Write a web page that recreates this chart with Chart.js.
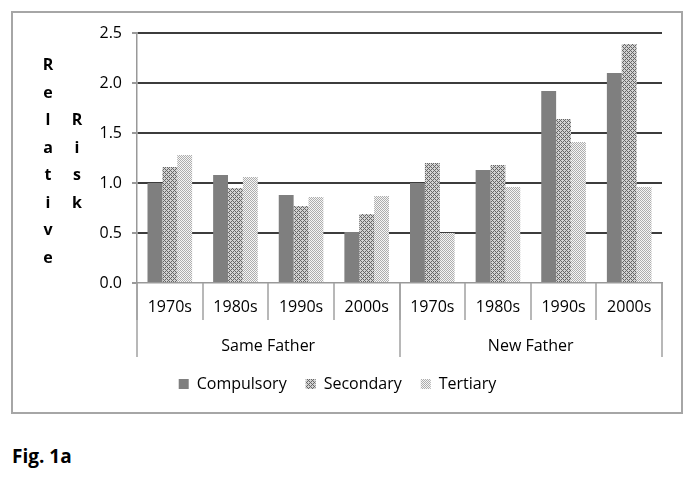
<!DOCTYPE html>
<html>
<head>
<meta charset="utf-8">
<script src="https://cdn.jsdelivr.net/npm/chart.js@4/dist/chart.umd.min.js"></script>
<style>
  body { margin: 0; background: #fff; font-family: "Open Sans", sans-serif; }
  #box { position: absolute; left: 11px; top: 11px; width: 672px; height: 403px;
         border: 2px solid #a6a6a6; box-sizing: border-box; }
  #fig { position: absolute; left: 12px; top: 443px; font-size: 19px; font-weight: bold; color: #000; }
</style>
</head>
<body>
<div id="box"><canvas id="chart" width="668" height="399"></canvas></div>
<div id="fig">Fig. 1a</div>
<script>
// データ
var decades = ["1970s", "1980s", "1990s", "2000s", "1970s", "1980s", "1990s", "2000s"];
var groups = ["Same Father", "New Father"];
var compulsory = [1.00, 1.08, 0.88, 0.51, 1.00, 1.13, 1.92, 2.10];
var secondary  = [1.16, 0.95, 0.77, 0.69, 1.20, 1.18, 1.64, 2.39];
var tertiary   = [1.28, 1.06, 0.86, 0.87, 0.50, 0.96, 1.41, 0.96];
var yTitle1 = "Relative";
var yTitle2 = "Risk";

// 塗りつぶしパターン
function makePattern(size, bg, fg, dots) {
  var c = document.createElement("canvas");
  c.width = size; c.height = size;
  var g = c.getContext("2d");
  g.fillStyle = bg; g.fillRect(0, 0, size, size);
  g.fillStyle = fg;
  dots.forEach(function (d) { g.fillRect(d[0], d[1], 1, 1); });
  return g.createPattern(c, "repeat");
}
var ctx = document.getElementById("chart").getContext("2d");
var crossPat = makePattern(4, "#d2d2d2", "#666666", [[0,0],[1,1],[2,2],[3,3],[0,2],[2,0]]);
var dotPat = makePattern(2, "#f6f6f6", "#adadad", [[0,0],[1,1]]);

// 区切り線とY軸タイトル
var decorPlugin = {
  id: "decor",
  afterDraw: function (chart) {
    var g = chart.ctx;
    var xs = chart.scales.x, x2 = chart.scales.x2;
    g.save();
    g.strokeStyle = "#a0a0a0";
    g.lineWidth = 1.5;
    var n = decades.length, w = (xs.right - xs.left) / n;
    for (var i = 0; i <= n; i++) {
      var px = Math.round(xs.left + i * w);
      g.beginPath(); g.moveTo(px, xs.top); g.lineTo(px, xs.bottom); g.stroke();
    }
    var m = groups.length, w2 = (x2.right - x2.left) / m;
    for (var j = 0; j <= m; j++) {
      var qx = Math.round(x2.left + j * w2);
      g.beginPath(); g.moveTo(qx, xs.top); g.lineTo(qx, x2.bottom); g.stroke();
    }
    // Y軸タイトル（縦書き）
    var ca = chart.chartArea;
    var cy = (ca.top + ca.bottom) / 2 + 4;
    var step = 27.5;
    g.fillStyle = "#000";
    g.font = "bold 16px 'Open Sans'";
    g.textAlign = "center";
    g.textBaseline = "middle";
    [yTitle1, yTitle2].forEach(function (word, k) {
      var tx = 35 + k * 29;
      for (var t = 0; t < word.length; t++) {
        g.fillText(word[t], tx, cy + (t - (word.length - 1) / 2) * step);
      }
    });
    g.restore();
  }
};

var myChart = new Chart(ctx, {
  type: "bar",
  data: {
    labels: decades,
    datasets: [
      { label: "Compulsory", data: compulsory, backgroundColor: "#7f7f7f" },
      { label: "Secondary", data: secondary, backgroundColor: crossPat },
      { label: "Tertiary", data: tertiary, backgroundColor: dotPat }
    ]
  },
  options: {
    responsive: false,
    animation: false,
    layout: { padding: { top: 20, right: 19, bottom: 10, left: 0 } },
    datasets: { bar: { categoryPercentage: 0.68, barPercentage: 1.0, borderWidth: 0 } },
    scales: {
      y: {
        min: 0, max: 2.5,
        ticks: { stepSize: 0.5, padding: 10, color: "#000",
                 font: { family: "'Open Sans'", size: 16 },
                 callback: function (v) { return v.toFixed(1); } },
        grid: { color: function (c) { return c.tick && c.tick.value === 0 ? "rgba(0,0,0,0)" : "#3c3c3c"; },
                lineWidth: 2, tickColor: "#999", tickLength: 5 },
        border: { color: "#999", width: 1.5 },
        afterFit: function (s) { s.width = 124; }
      },
      x: {
        grid: { display: false, drawTicks: false },
        border: { color: "#999", width: 1.5 },
        ticks: { padding: 15, color: "#000", maxRotation: 0, font: { family: "'Open Sans'", size: 16 } },
        afterFit: function (s) { s.height = 37; }
      },
      x2: {
        type: "category",
        position: "bottom",
        weight: 1,
        labels: groups,
        grid: { display: false, drawTicks: false },
        border: { display: false },
        ticks: { padding: 17, color: "#000", maxRotation: 0, font: { family: "'Open Sans'", size: 16 } },
        afterFit: function (s) { s.height = 37; }
      }
    },
    plugins: {
      legend: {
        position: "bottom",
        labels: { boxWidth: 10, boxHeight: 10, padding: 19, color: "#000",
                  font: { family: "'Open Sans'", size: 16 } }
      },
      tooltip: { enabled: false }
    }
  },
  plugins: [decorPlugin]
});
</script>
</body>
</html>
